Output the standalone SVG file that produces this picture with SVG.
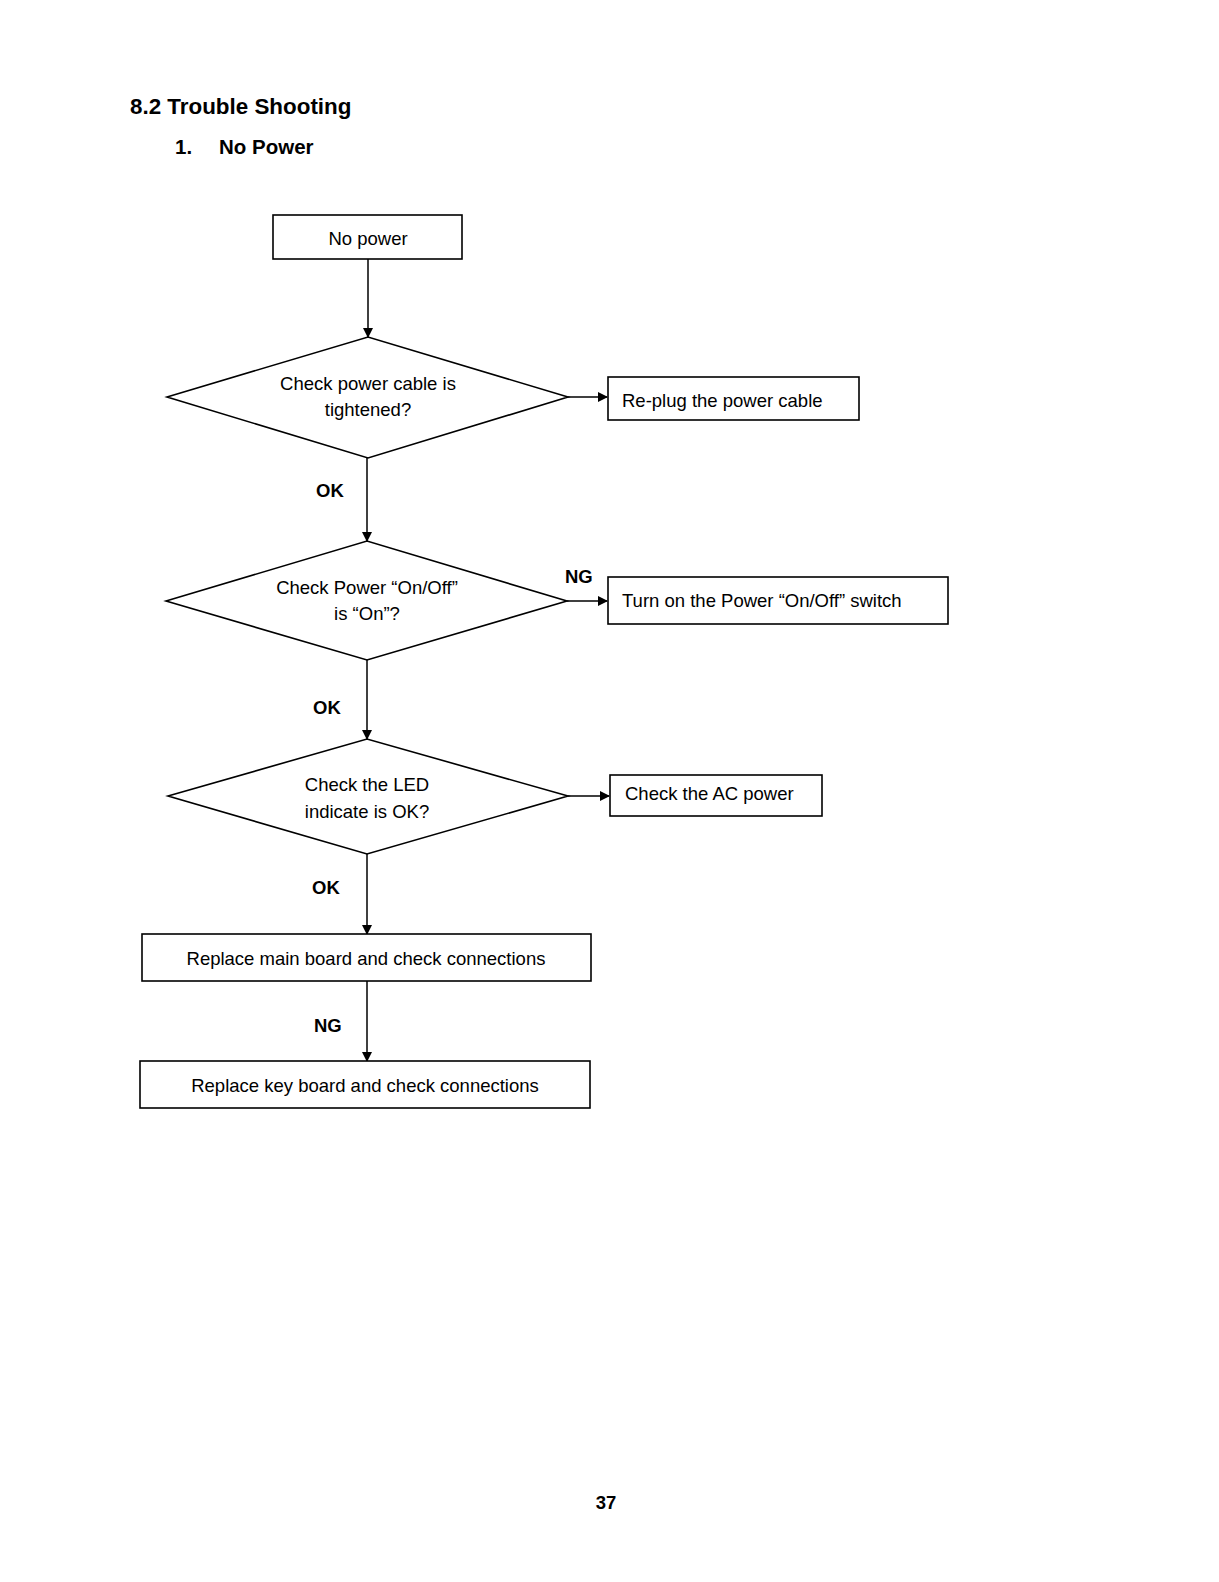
<svg xmlns="http://www.w3.org/2000/svg" width="1219" height="1582" viewBox="0 0 1219 1582">
<defs>
<marker id="arr" markerWidth="10" markerHeight="10" refX="9" refY="5" orient="auto" markerUnits="userSpaceOnUse">
<path d="M0,0 L10,5 L0,10 Z" fill="#000"/>
</marker>
<style>
.box{fill:#fff;stroke:#000;stroke-width:1.6}
.t{font-family:"Liberation Sans",Arial,sans-serif;font-size:18.5px;fill:#000}
.c{text-anchor:middle}
.lbl{font-family:"Liberation Sans",Arial,sans-serif;font-size:18.5px;font-weight:bold;fill:#000}
.con{stroke:#000;stroke-width:1.5;fill:none;marker-end:url(#arr)}
</style>
</defs>
<rect width="1219" height="1582" fill="#fff"/>
<text x="130" y="114" style="font-family:'Liberation Sans',Arial,sans-serif;font-size:22.4px;font-weight:bold">8.2 Trouble Shooting</text>
<text x="175" y="154" style="font-family:'Liberation Sans',Arial,sans-serif;font-size:20.5px;font-weight:bold">1.</text>
<text x="219" y="154" style="font-family:'Liberation Sans',Arial,sans-serif;font-size:20.5px;font-weight:bold">No Power</text>

<g id="connectors">
<line class="con" x1="368" y1="259" x2="368" y2="337"/>
<line class="con" x1="568" y1="397" x2="607" y2="397"/>
<line class="con" x1="367" y1="458" x2="367" y2="541"/>
<line class="con" x1="567" y1="601" x2="607" y2="601"/>
<line class="con" x1="367" y1="660" x2="367" y2="739"/>
<line class="con" x1="568" y1="796" x2="609" y2="796"/>
<line class="con" x1="367" y1="854" x2="367" y2="934"/>
<line class="con" x1="367" y1="981" x2="367" y2="1061"/>
<text class="lbl" x="316" y="497">OK</text>
<text class="lbl" x="565" y="583">NG</text>
<text class="lbl" x="313" y="714">OK</text>
<text class="lbl" x="312" y="894">OK</text>
<text class="lbl" x="314" y="1032">NG</text>
</g>

<g id="n_nopower">
<rect class="box" x="273" y="215" width="189" height="44"/>
<text class="t c" x="368" y="245">No power</text>
</g>
<g id="d_cable">
<polygon class="box" points="167,397 368,337 568,397 368,458"/>
<text class="t c" x="368" y="390">Check power cable is</text>
<text class="t c" x="368" y="416">tightened?</text>
</g>
<g id="n_replug">
<rect class="box" x="608" y="377" width="251" height="43"/>
<text class="t" x="622" y="407">Re-plug the power cable</text>
</g>
<g id="d_onoff">
<polygon class="box" points="166,601 367,541 567,601 367,660"/>
<text class="t c" x="367" y="594">Check Power “On/Off”</text>
<text class="t c" x="367" y="620">is “On”?</text>
</g>
<g id="n_turnon">
<rect class="box" x="608" y="577" width="340" height="47"/>
<text class="t" x="622" y="607">Turn on the Power “On/Off” switch</text>
</g>
<g id="d_led">
<polygon class="box" points="168,796 367,739 568,796 367,854"/>
<text class="t c" x="367" y="791">Check the LED</text>
<text class="t c" x="367" y="818">indicate is OK?</text>
</g>
<g id="n_ac">
<rect class="box" x="610" y="775" width="212" height="41"/>
<text class="t" x="625" y="800">Check the AC power</text>
</g>
<g id="n_main">
<rect class="box" x="142" y="934" width="449" height="47"/>
<text class="t c" x="366" y="965">Replace main board and check connections</text>
</g>
<g id="n_key">
<rect class="box" x="140" y="1061" width="450" height="47"/>
<text class="t c" x="365" y="1092">Replace key board and check connections</text>
</g>
<text x="606" y="1509" text-anchor="middle" style="font-family:'Liberation Sans',Arial,sans-serif;font-size:18.5px;font-weight:bold">37</text>
</svg>
